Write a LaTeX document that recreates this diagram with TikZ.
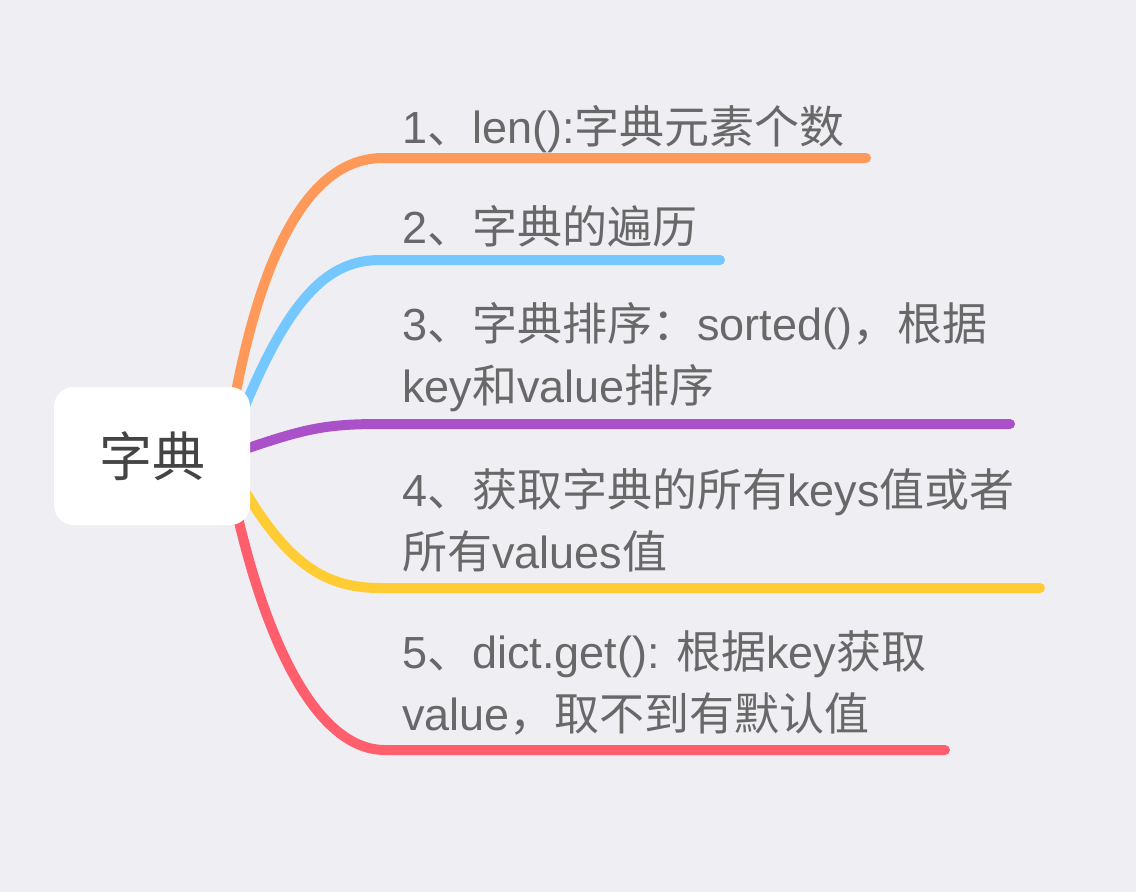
\documentclass[tikz,border=0pt]{standalone}
\usepackage{fontspec}
\setmainfont{Liberation Sans}
\newfontfamily\zh{Noto Sans CJK SC}
\usetikzlibrary{positioning}
\definecolor{bgcol}{RGB}{239,238,243}
\definecolor{rootgray}{RGB}{68,68,68}
\definecolor{itemgray}{RGB}{104,104,104}
\definecolor{borange}{RGB}{255,153,90}
\definecolor{bblue}{RGB}{116,200,255}
\definecolor{bpurple}{RGB}{170,80,200}
\definecolor{byellow}{RGB}{255,204,51}
\definecolor{bred}{RGB}{255,94,108}
\pgfdeclarelayer{bg}
\pgfdeclarelayer{lines}
\pgfsetlayers{bg,lines,main}

\begin{document}
\begin{tikzpicture}[x=1pt, y=-1pt,
    root/.style={fill=white, rounded corners=20pt, minimum width=196pt, minimum height=138pt, text=rootgray, font=\zh\fontsize{53}{60}\selectfont},
    item/.style={anchor=base west, inner sep=0pt, align=left, text=itemgray, font=\fontsize{45}{62}\selectfont},
    branch/.style={line width=10pt, line cap=round}]
    \useasboundingbox (0,0) rectangle (1136,892);
    \begin{pgfonlayer}{bg}
        \fill[bgcol] (0,0) rectangle (1136,892);
    \end{pgfonlayer}

    \node[root] (root) at (152,456) {字典};

    % base anchor sits on the last line
    \node[item] (t1) at (402,143) {1{\zh 、}len():{\zh 字典元素个数}};
    \node[item] (t2) at (402,243) {2{\zh 、字典的遍历}};
    \node[item] (t3) at (402,402) {3{\zh 、字典排序：}sorted(){\zh ，根据}\\key{\zh 和}value{\zh 排序}};
    \node[item] (t4) at (402,568) {4{\zh 、获取字典的所有}keys{\zh 值或者}\\{\zh 所有}values{\zh 值}};
    \node[item] (t5) at (402,730) {5{\zh 、}dict.get(): {\zh 根据}key{\zh 获取}\\value{\zh ，取不到有默认值}};

    \coordinate (k1) at (383,158); \coordinate (e1) at (866,158);
    \coordinate (k2) at (380,260); \coordinate (e2) at (720,260);
    \coordinate (k3) at (380,424); \coordinate (e3) at (1010,424);
    \coordinate (k4) at (380,588); \coordinate (e4) at (1040,588);
    \coordinate (k5) at (385,750); \coordinate (e5) at (945,750);

    \begin{pgfonlayer}{lines}
        \draw[branch, borange] ([xshift=-25pt]root.east) .. controls (255,250) and (310,158) .. (k1) -- (e1);
        \draw[branch, bblue] ([xshift=-25pt]root.east) .. controls (280,310) and (320,260) .. (k2) -- (e2);
        \draw[branch, bpurple] ([xshift=-25pt]root.east) .. controls (300,430) and (320,424) .. (k3) -- (e3);
        \draw[branch, byellow] ([xshift=-25pt]root.east) .. controls (280,560) and (320,588) .. (k4) -- (e4);
        \draw[branch, bred] ([xshift=-25pt]root.east) .. controls (255,620) and (310,750) .. (k5) -- (e5);
    \end{pgfonlayer}
\end{tikzpicture}
\end{document}
